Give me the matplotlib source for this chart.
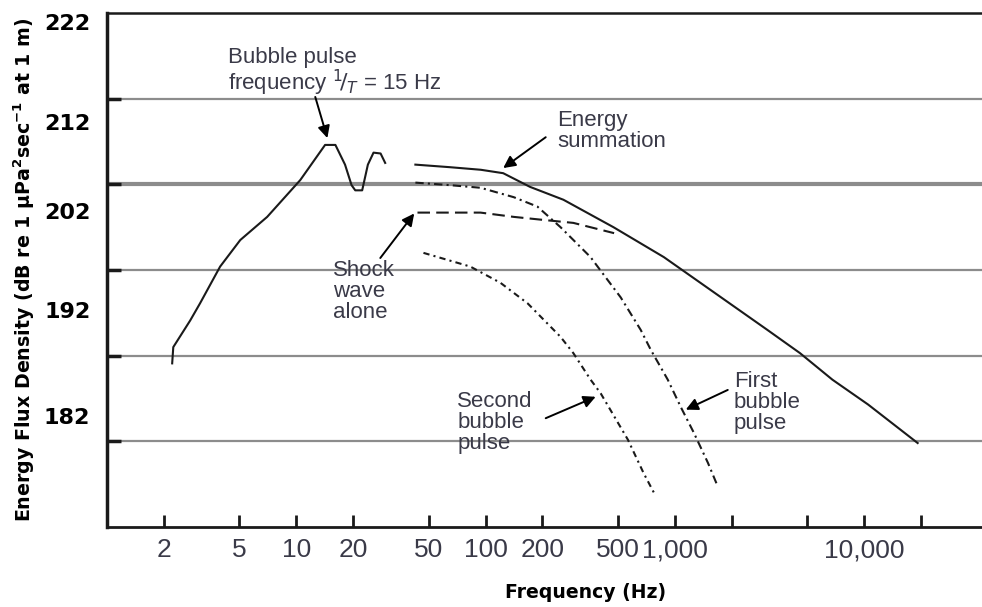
import numpy as np
import matplotlib
matplotlib.use("Agg")
import matplotlib.pyplot as plt

# --- data (Hz, dB) ---
main_f = [2.21, 2.24, 2.75, 3.10, 3.96, 5.06, 7.02, 10.5, 14.2, 16.1, 18.1, 19.6, 20.5, 22.3, 23.9, 25.6, 27.9, 29.5]
main_db = [181.1, 183.0, 186.1, 188.1, 192.4, 195.5, 198.2, 202.5, 206.6, 206.6, 204.3, 201.9, 201.3, 201.3, 204.3, 205.7, 205.6, 204.5]

sum_f = [42.6, 64.9, 94.4, 124, 172, 258, 474, 876, 3088, 4585, 6803, 10500, 19200]
sum_db = [204.3, 204.0, 203.7, 203.3, 201.7, 200.2, 197.0, 193.5, 185.0, 182.3, 179.2, 176.3, 171.8]

first_f = [42.6, 65.3, 94.1, 141, 188, 249, 359, 391, 518, 661, 746, 918, 1076, 1261, 1496, 1689]
first_db = [202.2, 201.9, 201.6, 200.5, 199.4, 197.0, 193.5, 192.4, 188.8, 185.0, 182.7, 179.2, 176.0, 173.0, 169.5, 166.7]

shock_f = [43.7, 94.1, 141, 212, 291, 478]
shock_db = [198.7, 198.7, 198.2, 197.8, 197.5, 196.3]

second_f = [47.0, 83.1, 120, 167, 249, 291, 359, 406, 565, 684, 776]
second_db = [194.0, 192.4, 190.5, 188.1, 184.2, 182.3, 179.2, 177.6, 172.2, 168.3, 166.0]

xtick_vals = [2, 5, 10, 20, 50, 100, 200, 500, 1000, 2000, 5000, 10000, 20000]
xtick_labels = ['2', '5', '10', '20', '50', '100', '200', '500', '1,000', '', '', '10,000', '']
ytick_vals = [220.9, 209.3, 198.9, 187.3, 175.0]
ytick_labels = ['222', '212', '202', '192', '182']
grid_vals = [172, 182, 192, 202, 212]

ink = '#1a1a1a'
txt = '#3a3a48'

fig = plt.figure(figsize=(9.82, 6.07), dpi=100)
ax = fig.add_axes([107 / 982, 80 / 607, 875 / 982, 514 / 607])

for g in grid_vals:
    ax.axhline(g, color='#8c8c8c', lw=3 if g == 202 else 1.6, zorder=1)

ax.plot(main_f, main_db, color=ink, lw=1.5)
ax.plot(sum_f, sum_db, color=ink, lw=1.5)
ax.plot(first_f, first_db, color=ink, lw=1.5, ls=(0, (4, 2, 1, 2)))
ax.plot(shock_f, shock_db, color=ink, lw=1.5, ls=(0, (6, 3)))
ax.plot(second_f, second_db, color=ink, lw=1.5, ls=(0, (3, 2, 1, 2)))

ax.set_xscale('log')
ax.set_xlim(1, 4.2e4)
ax.set_ylim(162, 222)

ax.set_xticks(xtick_vals)
ax.set_xticklabels(xtick_labels)
ax.xaxis.set_minor_locator(matplotlib.ticker.NullLocator())
ax.tick_params(axis='x', direction='in', length=9, width=2, color=ink, pad=8,
               labelsize=19, labelcolor=txt)
for lab in ax.get_xticklabels():
    lab.set_family('Liberation Sans')

ax.set_yticks(ytick_vals)
ax.set_yticklabels(ytick_labels)
ax.tick_params(axis='y', which='major', length=0, pad=12, labelsize=16)
for lab in ax.get_yticklabels():
    lab.set_fontweight('bold')
ax.set_yticks(grid_vals, minor=True)
ax.tick_params(axis='y', which='minor', direction='in', length=10, width=2.5, color=ink)

ax.spines['right'].set_visible(False)
ax.spines['left'].set_linewidth(2.5)
ax.spines['bottom'].set_linewidth(2)
ax.spines['top'].set_linewidth(1.8)
for s in ['left', 'bottom', 'top']:
    ax.spines[s].set_color(ink)

afont = dict(fontsize=16, color=txt, family='Liberation Sans', va='top', ha='left', linespacing=1.0)
arrow = dict(arrowstyle='-|>', color='k', lw=1.4, mutation_scale=18, shrinkA=0, shrinkB=0)

ax.text(4.37, 218.0, 'Bubble pulse\nfrequency $^1\\!/_T$ = 15 Hz', **afont)
ax.annotate('', xy=(14.6, 207.4), xytext=(12.6, 212.2), arrowprops=arrow)
ax.text(240, 210.7, 'Energy\nsummation', **afont)
ax.annotate('', xy=(124, 203.9), xytext=(208, 207.5), arrowprops=arrow)
ax.text(15.7, 193.2, 'Shock\nwave\nalone', **afont)
ax.annotate('', xy=(42, 198.6), xytext=(27.8, 193.4), arrowprops=arrow)
ax.text(71, 177.9, 'Second\nbubble\npulse', **afont)
ax.annotate('', xy=(382, 177.2), xytext=(208, 174.7), arrowprops=arrow)
ax.text(2051, 180.2, 'First\nbubble\npulse', **afont)
ax.annotate('', xy=(1143, 175.7), xytext=(1905, 178.0), arrowprops=arrow)

fig.text(586 / 982, 1 - 593 / 607, 'Frequency (Hz)', ha='center', va='center',
         fontsize=13.6, fontweight='bold', color='k')
fig.text(24 / 982, 1 - 270 / 607, 'Energy Flux Density (dB re 1 µPa$^\\mathbf{2}$sec$^\\mathbf{-1}$ at 1 m)',
         rotation=90, ha='center', va='center', fontsize=13.7, fontweight='bold', color='k')

fig.savefig('out.png', dpi=100)
